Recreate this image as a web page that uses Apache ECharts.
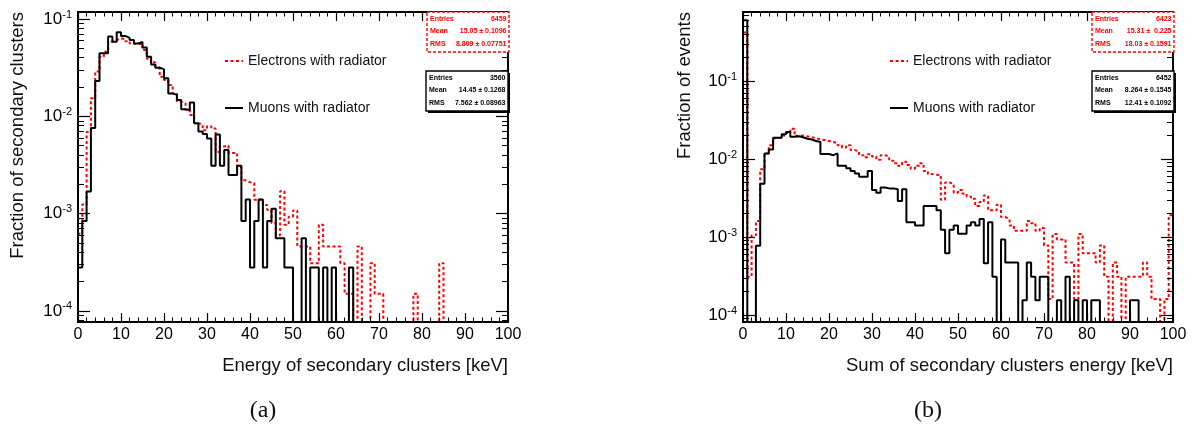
<!DOCTYPE html>
<html><head><meta charset="utf-8">
<script src="https://cdn.jsdelivr.net/npm/echarts@6/dist/echarts.min.js"></script>
<style>html,body{margin:0;padding:0;background:#fff}#c{width:1196px;height:428px}</style>
</head><body><div id="c"></div>
<script>
// ---- data (fraction per 1 keV bin, bins 0..99) ----
const BIN_LOW = Array.from({length: 100}, (_, i) => i);
const ELECTRONS_A = [6.2e-4,1.24e-3,6.9e-3,0.0153,0.0288,0.041,0.046,0.0585,0.061,0.063,
 0.062,0.059,0.056,0.055,0.056,0.048,0.039,0.036,0.032,0.0255,
 0.0236,0.021,0.0172,0.0142,0.0136,0.0116,0.0103,0.0085,0.0082,0.0072,
 0.0079,0.0075,0.0043,0.0049,0.0050,0.0042,0.0042,0.0030,0.0022,0.0021,
 0.00205,0.00139,0.00139,0.00123,0.00109,0.0008,0.0006,0.0017,0.00077,0.00093,
 0.00108,0.00046,0.00046,0.00046,0.00031,0.00031,0.00077,0.00046,0.00046,0.00046,
 0.00046,0.00031,0.00015,0.00015,0,0.00046,0,0,0.00031,0.00015,
 0.00015,0,0,0,0,0,0,0,0.00015,0,
 0,0,0,0,0.00031,0,0,0,0,0,
 0,0,0,0,0,0,0,0,0,0];
const MUONS_A = [2.8e-4,8.4e-4,1.69e-3,7.6e-3,0.0231,0.0444,0.0444,0.066,0.0585,0.073,
 0.067,0.064,0.061,0.056,0.058,0.051,0.041,0.034,0.0316,0.0304,
 0.0246,0.0172,0.0166,0.0147,0.0118,0.0116,0.0139,0.0085,0.0070,0.0066,
 0.0059,0.0031,0.0065,0.0031,0.0045,0.0025,0.0025,0.0031,8.4e-4,1.4e-3,
 2.8e-4,8.4e-4,1.4e-3,2.8e-4,8.4e-4,1.12e-3,5.6e-4,5.6e-4,2.8e-4,2.8e-4,
 0,0,5.6e-4,0,2.8e-4,2.8e-4,0,2.8e-4,0,2.8e-4,
 0,0,0,2.8e-4,0,0,0,0,0,0,
 0,0,0,0,0,0,0,0,0,0,
 0,0,0,0,0,0,0,0,0,0,
 0,0,0,0,0,0,0,0,0,0];
const ELECTRONS_B = [0.42,3.1e-4,1.05e-3,1.6e-3,7.4e-3,0.0118,0.0150,0.0185,0.0188,0.0200,
 0.0215,0.0245,0.0198,0.0200,0.0195,0.0190,0.0185,0.0178,0.0175,0.0170,
 0.0165,0.0160,0.0150,0.0140,0.0150,0.0130,0.0125,0.0112,0.0105,0.0115,
 0.0108,0.0098,0.0112,0.0108,0.0095,0.0088,0.0082,0.0092,0.0084,0.0075,
 0.0082,0.0088,0.0070,0.0064,0.0063,0.0062,0.0030,0.0050,0.0048,0.0037,
 0.0040,0.0036,0.0033,0.0031,0.0025,0.0028,0.0034,0.0022,0.0022,0.0026,
 0.0018,0.0017,0.0014,0.0012,0.0012,0.0012,0.0016,0.0015,0.0012,0.0013,
 7.8e-4,1.6e-4,1.09e-3,9.3e-4,9.3e-4,4.7e-4,4.7e-4,1.6e-4,1.09e-3,6.2e-4,
 6.2e-4,6.2e-4,4.7e-4,7.8e-4,3.1e-4,0,4.7e-4,3.1e-4,0,3.1e-4,
 3.1e-4,3.1e-4,3.1e-4,4.7e-4,3.1e-4,1.6e-4,1.6e-4,0,1.6e-4,1.9e-3];
const MUONS_B = [0.6,0,0,7.75e-4,0.0048,0.0118,0.0132,0.0187,0.0187,0.0207,
 0.0222,0.0193,0.0196,0.0190,0.0182,0.0178,0.0170,0.0165,0.0116,0.0116,
 0.0112,0.0118,0.0082,0.0082,0.0076,0.0070,0.0065,0.0059,0.0059,0.0070,
 0.0040,0.0037,0.0043,0.0042,0.0042,0.0041,0.0029,0.0041,0.00155,0.00155,
 0.0014,0.0014,0.0025,0.0025,0.0025,0.0022,0.00124,0.00062,0.00124,0.0014,
 0.0011,0.0011,0.0014,0.00155,0.0014,0.0017,0.00046,0.00155,0.00031,0,
 0.00093,0.00047,0.00047,0.00047,0,0.000155,0.00047,0.00031,0.000155,0.00031,
 0.00031,0,0,0.000155,0,0.00031,0,0.000155,0,0.000155,
 0,0.000155,0.000155,0,0,0,0,0,0,0,
 0.000155,0.000155,0,0,0,0,0,0,0,0];
const X_TICKS = [0,10,20,30,40,50,60,70,80,90,100];
const Y_TICKS = [1e-4,1e-3,1e-2,1e-1];
const Y_MINOR_MULT = [2,3,4,5,6,7,8,9];
const SERIES_NAMES = ['Electrons with radiator','Muons with radiator'];
const X_TITLES = ['Energy of secondary clusters [keV]','Sum of secondary clusters energy [keV]'];
const Y_TITLES = ['Fraction of secondary clusters','Fraction of events'];
const PANEL_TAGS = ['(a)','(b)'];
const STAT_LABELS = ['Entries','Mean','RMS'];
const STATS_EA = ['6459','15.05 \u00b1 0.1096','8.809 \u00b1 0.07751'];
const STATS_MA = ['3560','14.45 \u00b1 0.1268','7.562 \u00b1 0.08963'];
const STATS_EB = ['6423','15.31 \u00b1  0.225','18.03 \u00b1 0.1591'];
const STATS_MB = ['6452','8.264 \u00b1 0.1545','12.41 \u00b1 0.1092'];

// ---- layout ----
const F = "'Liberation Sans', Arial, Helvetica, sans-serif";
const FLOOR = 1e-7;
const GRIDS = [
  {left: 78, top: 12, width: 430, height: 310, ymin: 7.7e-5, ymax: 0.118},
  {left: 743, top: 12, width: 430, height: 310, ymin: 8.13e-5, ymax: 0.767}
];

function minorValues(lo, hi) {
  const out = [];
  [1e-5, 1e-4, 1e-3, 1e-2, 1e-1].forEach(d => Y_MINOR_MULT.forEach(k => {
    const v = k * d;
    if (v > lo && v < hi) out.push(v);
  }));
  return out;
}
function histPoints(vals) {
  const pts = [[BIN_LOW[0], FLOOR]];
  vals.forEach((v, i) => pts.push([BIN_LOW[i], v > 0 ? v : FLOOR]));
  const last = vals[vals.length - 1];
  pts.push([100, last > 0 ? last : FLOOR]);
  pts.push([100, FLOOR]);
  return pts;
}
function expLabel(v) {
  const e = Math.round(Math.log10(v));
  return '{b|10}{s|' + e + '}';
}
const AXLINE = {show: true, onZero: false, lineStyle: {color: '#000', width: 1.8}};
const xAxes = [], yAxes = [];
GRIDS.forEach((g, gi) => {
  ['bottom', 'top'].forEach(pos => {
    xAxes.push({
      type: 'value', gridIndex: gi, position: pos, min: 0, max: 100, interval: 10, z: 5,
      name: pos === 'bottom' ? X_TITLES[gi] : '',
      nameLocation: 'end', nameGap: 0,
      nameTextStyle: {align: 'right', verticalAlign: 'top', padding: [34, 0, 0, 0], fontSize: 18.5, fontFamily: F, color: '#111'},
      axisLine: AXLINE,
      axisTick: {show: true, inside: true, length: 9, lineStyle: {color: '#000', width: 1.2}},
      minorTick: {show: true, splitNumber: 5, length: 4.5, lineStyle: {color: '#000', width: 1}},
      axisLabel: pos === 'bottom' ? {show: true, margin: 5, fontSize: 16, fontFamily: F, color: '#000',
        customValues: X_TICKS} : {show: false},
      splitLine: {show: false}
    });
  });
  const minors = minorValues(g.ymin, g.ymax);
  ['left', 'right'].forEach(pos => {
    yAxes.push({
      type: 'log', logBase: 10, gridIndex: gi, position: pos, min: g.ymin, max: g.ymax, z: 5,
      axisLine: AXLINE,
      axisTick: {show: true, inside: true, length: 12, customValues: Y_TICKS, lineStyle: {color: '#000', width: 1.2}},
      minorTick: {show: false},
      axisLabel: pos === 'left' ? {
        show: true, margin: 6, customValues: Y_TICKS, formatter: expLabel,
        rich: {
          b: {fontSize: 17, fontFamily: F, color: '#000', lineHeight: 20},
          s: {fontSize: 11, fontFamily: F, color: '#000', lineHeight: 11, verticalAlign: 'top'}
        }
      } : {show: false},
      splitLine: {show: false}
    });
    yAxes.push({
      type: 'log', logBase: 10, gridIndex: gi, position: pos, min: g.ymin, max: g.ymax, z: 5,
      axisLine: AXLINE,
      axisTick: {show: true, inside: true, length: 6, customValues: minors, lineStyle: {color: '#000', width: 1}},
      minorTick: {show: false},
      axisLabel: {show: false},
      splitLine: {show: false}
    });
  });
});

const series = [];
[[ELECTRONS_A, MUONS_A], [ELECTRONS_B, MUONS_B]].forEach((pair, gi) => {
  series.push({
    name: SERIES_NAMES[0], type: 'line', step: 'end', xAxisIndex: gi * 2, yAxisIndex: gi * 4,
    data: histPoints(pair[0]), symbol: 'none', clip: true, z: 2,
    lineStyle: {color: '#ff0000', width: 2, type: [3, 2.5]}, itemStyle: {color: '#ff0000'}
  });
  series.push({
    name: SERIES_NAMES[1], type: 'line', step: 'end', xAxisIndex: gi * 2, yAxisIndex: gi * 4,
    data: histPoints(pair[1]), symbol: 'none', clip: true, z: 3,
    lineStyle: {color: '#000', width: 2}, itemStyle: {color: '#000'}
  });
});

function statsBox(x, y, color, dashed, shadow, vals) {
  const w = 82, h = 40, out = [];
  if (shadow) out.push({type: 'rect', z: 20, shape: {x: x + 2, y: y + 2, width: w, height: h}, style: {fill: '#000'}});
  out.push({type: 'rect', z: 21, shape: {x: x, y: y, width: w, height: h},
    style: {fill: '#fff', stroke: color, lineWidth: 1.4, lineDash: dashed ? [3, 2] : null}});
  STAT_LABELS.forEach((lab, i) => {
    const cy = y + 6.8 + i * 12.7;
    out.push({type: 'text', z: 22, x: x + 3, y: cy, style: {text: lab, fill: color, fontSize: 7, fontWeight: 'bold', fontFamily: F, align: 'left', verticalAlign: 'middle'}});
    out.push({type: 'text', z: 22, x: x + w - 2.5, y: cy, style: {text: vals[i], fill: color, fontSize: 7, fontWeight: 'bold', fontFamily: F, align: 'right', verticalAlign: 'middle'}});
  });
  return out;
}

const graphic = [].concat(
  statsBox(427, 12, '#ff0000', true, false, STATS_EA),
  statsBox(426, 71, '#000', false, true, STATS_MA),
  statsBox(1092, 12, '#ff0000', true, false, STATS_EB),
  statsBox(1092, 71, '#000', false, true, STATS_MB),
  [
    {type: 'text', x: 18, y: 12, rotation: Math.PI / 2, style: {text: Y_TITLES[0], fontSize: 18.5, fontFamily: F, fill: '#111', align: 'right', verticalAlign: 'middle'}},
    {type: 'text', x: 685, y: 12, rotation: Math.PI / 2, style: {text: Y_TITLES[1], fontSize: 18.5, fontFamily: F, fill: '#111', align: 'right', verticalAlign: 'middle'}},
    {type: 'text', x: 263, y: 411, style: {text: PANEL_TAGS[0], fontSize: 24, fontFamily: "'Liberation Serif', 'DejaVu Serif', serif", fill: '#111', align: 'center', verticalAlign: 'middle'}},
    {type: 'text', x: 928, y: 411, style: {text: PANEL_TAGS[1], fontSize: 24, fontFamily: "'Liberation Serif', 'DejaVu Serif', serif", fill: '#111', align: 'center', verticalAlign: 'middle'}}
  ]
);

const legendBase = {
  orient: 'vertical', top: 49, itemGap: 33, itemWidth: 18, itemHeight: 14,
  data: SERIES_NAMES, selectedMode: false,
  itemStyle: {opacity: 0},
  textStyle: {fontSize: 14, fontFamily: F, color: '#111'}
};

const chart = echarts.init(document.getElementById('c'), null, {renderer: 'canvas'});
chart.setOption({
  animation: false,
  backgroundColor: '#fff',
  textStyle: {fontFamily: F},
  grid: GRIDS.map(g => ({left: g.left, top: g.top, width: g.width, height: g.height})),
  xAxis: xAxes,
  yAxis: yAxes,
  legend: [Object.assign({left: 219}, legendBase), Object.assign({left: 884}, legendBase)],
  series: series,
  graphic: graphic
});
</script></body></html>
